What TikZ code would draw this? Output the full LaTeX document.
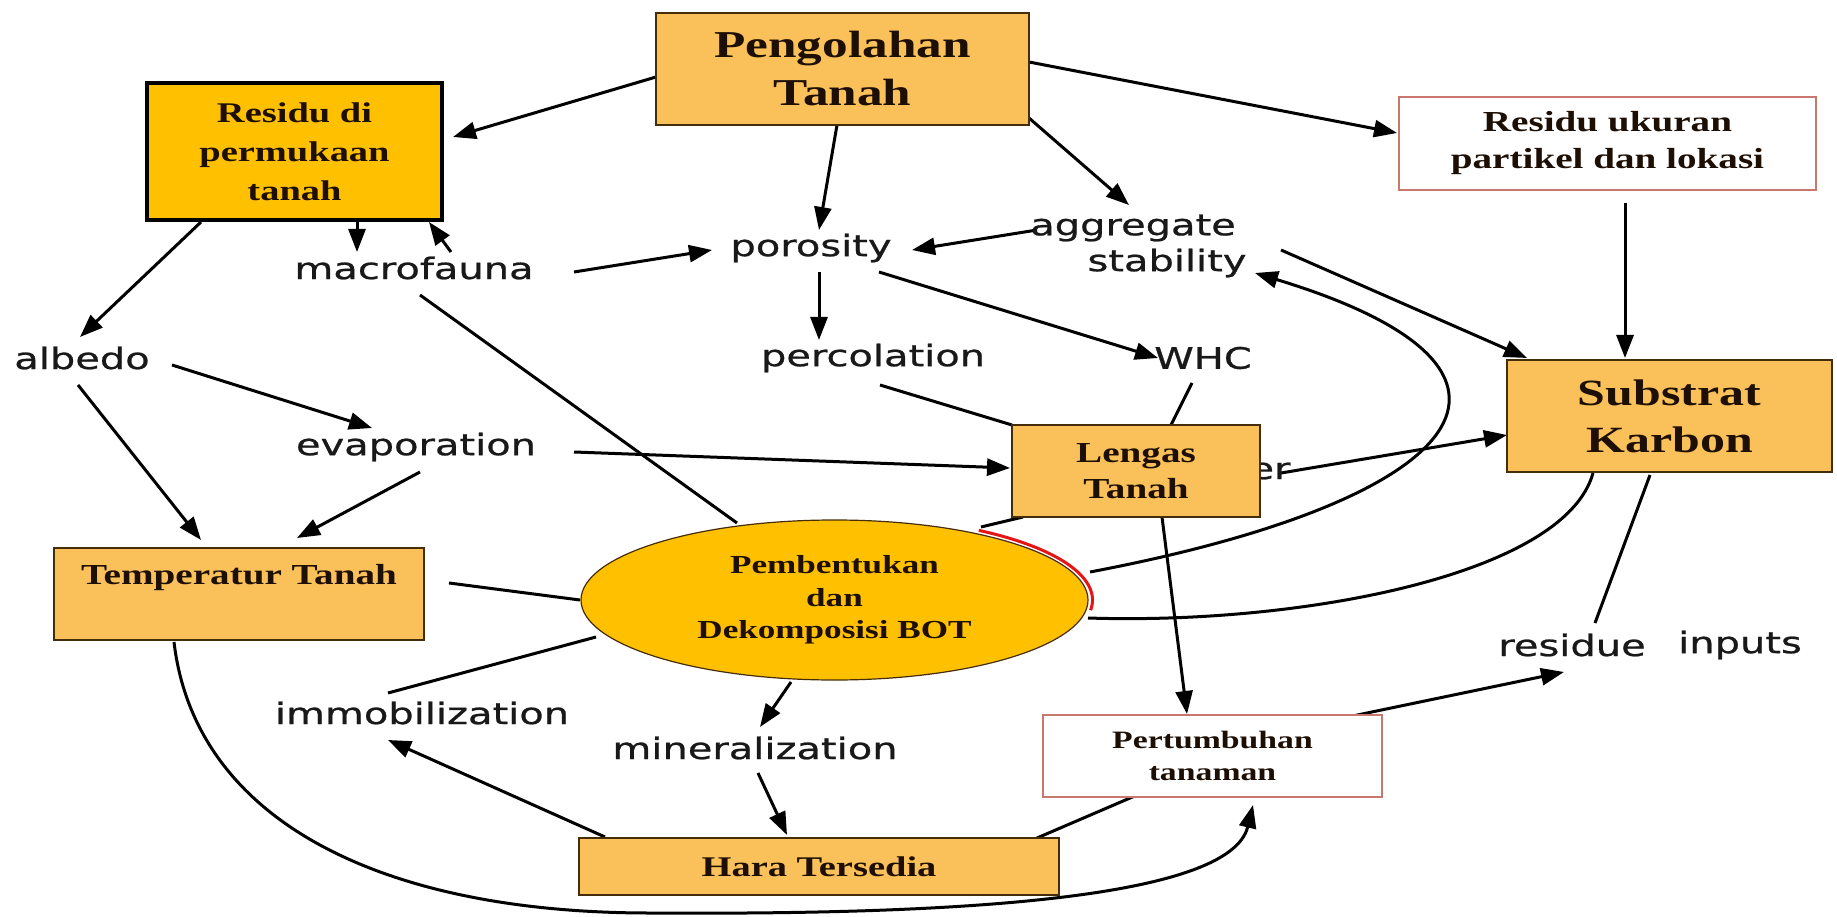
\documentclass[tikz,border=0pt]{standalone}
\usepackage{fontspec}
\usetikzlibrary{arrows.meta,shapes.geometric,calc,backgrounds}
\newfontfamily\serifb{Liberation Serif}[FakeStretch=1.35]
\newfontfamily\sanslab{DejaVu Sans}[FakeStretch=1.35,FakeBold=0.8]
\definecolor{orangeL}{RGB}{250,193,90}
\definecolor{goldc}{RGB}{255,192,0}
\definecolor{boxb}{RGB}{70,45,10}
\definecolor{resb}{RGB}{200,120,110}
\definecolor{txtc}{RGB}{30,15,5}
\definecolor{labc}{RGB}{25,25,25}
\definecolor{redarc}{RGB}{230,20,20}
\begin{document}
\begin{tikzpicture}[x=1pt,y=-1pt,
  sz/.style 2 args={minimum width=#1pt, minimum height=#2pt},
  obox/.style={rectangle, draw=boxb, line width=1.5pt, fill=orangeL, align=center, inner sep=0pt, text=txtc},
  wbox/.style={rectangle, draw=resb, line width=1.3pt, fill=white, align=center, inner sep=0pt, text=txtc},
  lab/.style={font=\sanslab\fontsize{29.6}{34}\selectfont, text=labc, inner sep=0pt},
  sb/.style 2 args={font=\serifb\bfseries\fontsize{#1}{#2}\selectfont},
  arr/.style={line width=3pt, -{Triangle[length=23pt,width=17pt]}},
  ln/.style={line width=3pt},
]
\useasboundingbox (0,0) rectangle (1837,917);
% boxes
\node[obox, sz={373}{112}, sb={38}{48}] (peng) at (842.5,69) {Pengolahan\\Tanah};
\node[obox, fill=goldc, draw=black, line width=3.5pt, sz={295}{137}, sb={28.5}{39}] (resdi) at (294.5,151.5) {Residu di\\permukaan\\tanah};
\node[wbox, sz={417}{93}, sb={29}{37}] (resuk) at (1607.5,143.5) {Residu ukuran\\partikel dan lokasi};
\node[obox, sz={325}{112}, sb={37}{47}] (subs) at (1669.5,416) {Substrat\\Karbon};
\node[lab] (er) at (1270,471) {er};
\node[obox, sz={248}{92}, sb={29}{36}] (leng) at (1136,471) {Lengas\\Tanah};
\node[obox, sz={370}{92}] (temp) at (239,594) {};
\node[sb={29}{34}, text=txtc, inner sep=0pt] (tempt) at (239,578) {Temperatur Tanah};
\node[ellipse, draw=boxb, line width=1.2pt, fill=goldc, minimum width=507pt, minimum height=160pt, inner sep=0pt, align=center, text=txtc, sb={26}{32.5}] (bot) at (834.5,600) {Pembentukan\\dan\\Dekomposisi BOT};
\node[obox, sz={480}{57}, sb={28.5}{34}] (hara) at (819,866.5) {Hara Tersedia};
\node[wbox, sz={339}{82}, sb={25}{32}] (pert) at (1212.5,756) {Pertumbuhan\\tanaman};
% labels
\node[lab] (macro) at (414,268) {macrofauna};
\node[lab] (poro) at (811,248) {porosity};
\node[lab] (agg) at (1133,228) {aggregate};
\node[lab] (stab) at (1167,263) {stability};
\node[lab] (albedo) at (82,358) {albedo};
\node[lab] (perc) at (873,358) {percolation};
\node[lab] (whc) at (1203,358) {WHC};
\node[lab] (evap) at (416,447) {evaporation};
\node[lab] (immob) at (422,713) {immobilization};
\node[lab] (miner) at (755,748) {mineralization};
\node[lab] (resid) at (1572,645) {residue};
\node[lab] (inputs) at (1740,645) {inputs};
% red arc
\begin{scope}[shift={(bot.center)}]
\draw[redarc, line width=3pt] plot[domain=-7:56, samples=50, smooth] ({258*cos(\x)},{-84*sin(\x)});
\end{scope}
\begin{pgfonlayer}{background}
\draw[arr] ($(peng)+(-186.5,8)$) -- ($(resdi)+(158.5,-14.5)$);
\draw[arr] ($(peng)+(-5.5,56)$) -- ($(poro)+(8,-18)$);
\draw[arr] ($(peng)+(186.5,49)$) -- ($(agg)+(-4,-23)$);
\draw[arr] ($(peng)+(186.5,-7)$) -- ($(resuk)+(-210.5,-10.5)$);
\draw[arr] ($(resuk)+(17.5,59.5)$) -- ($(subs)+(-44.5,-58)$);
\draw[arr] ($(resdi)+(-93.5,70.5)$) -- ($(albedo)+(-2,-21)$);
\draw[arr] ($(resdi)+(62.5,70.5)$) -- ($(macro)+(-57,-16)$);
\draw[arr] ($(macro)+(37,-16)$) -- ($(resdi)+(134.5,70.5)$);
\draw[arr] ($(macro)+(160,4)$) -- ($(poro)+(-99,2)$);
\draw[arr] ($(agg)+(-96,2)$) -- ($(poro)+(101,2)$);
\draw[arr] ($(poro)+(8,24)$) -- ($(perc)+(-54,-18)$);
\draw[arr] ($(poro)+(68,24)$) -- ($(whc)+(-45,0)$);
\draw[arr] ($(stab)+(114,-13)$) -- ($(subs)+(-142.5,-58)$);
\draw[arr] ($(bot)+(255.5,-28)$) .. controls (1470,500) and (1575,370) .. ($(stab)+(88,10)$);
\draw[arr] ($(albedo)+(90,7)$) -- ($(evap)+(-44,-19)$);
\draw[arr] ($(albedo)+(-4,27)$) -- ($(temp)+(-38,-54)$);
\draw[arr] ($(evap)+(4,25)$) -- ($(temp)+(58,-56)$);
\draw[arr] ($(evap)+(158,5)$) -- ($(leng)+(-126,-3)$);
\draw[ln] ($(perc)+(7,27)$) -- ($(leng)+(-124,-46)$);
\draw[ln] ($(whc)+(-11,25)$) -- ($(leng)+(35,-46)$);
\draw[arr] ($(er)+(11,2)$) -- ($(subs)+(-162.5,19)$);
\draw[arr] ($(leng)+(26,46)$) -- ($(pert)+(-25.5,-42)$);
\draw[ln] ($(leng)+(-113,46)$) -- ($(bot)+(146.5,-73)$);
\draw[ln] ($(macro)+(6,27)$) -- ($(bot)+(-97.5,-77)$);
\draw[ln] ($(temp)+(210,-11)$) -- ($(bot)+(-254.5,0)$);
\draw[ln] ($(bot)+(-238.5,37)$) -- ($(immob)+(-34,-20)$);
\draw[arr] ($(bot)+(-43.5,82)$) -- ($(miner)+(5,-21)$);
\draw[arr] ($(miner)+(3,25)$) -- ($(hara)+(-32,-31.5)$);
\draw[arr] ($(hara)+(-214,-29.5)$) -- ($(immob)+(-34,27)$);
\draw[ln] ($(hara)+(218,-28.5)$) -- ($(pert)+(-68.5,36)$);
\draw[arr] ($(temp)+(-65,48)$) .. controls (195,820) and (380,913) .. (650,913) .. controls (950,915) and (1230,900) .. ($(pert)+(40.5,49)$);
\draw[arr] ($(pert)+(130.5,-38)$) -- ($(resid)+(-8,27)$);
\draw[ln] ($(resid)+(23,-22)$) -- ($(subs)+(-19.5,59)$);
\draw[ln] ($(subs)+(-76.5,57)$) .. controls (1565,575) and (1300,625) .. ($(bot)+(253.5,18)$);
\end{pgfonlayer}
\end{tikzpicture}
\end{document}
